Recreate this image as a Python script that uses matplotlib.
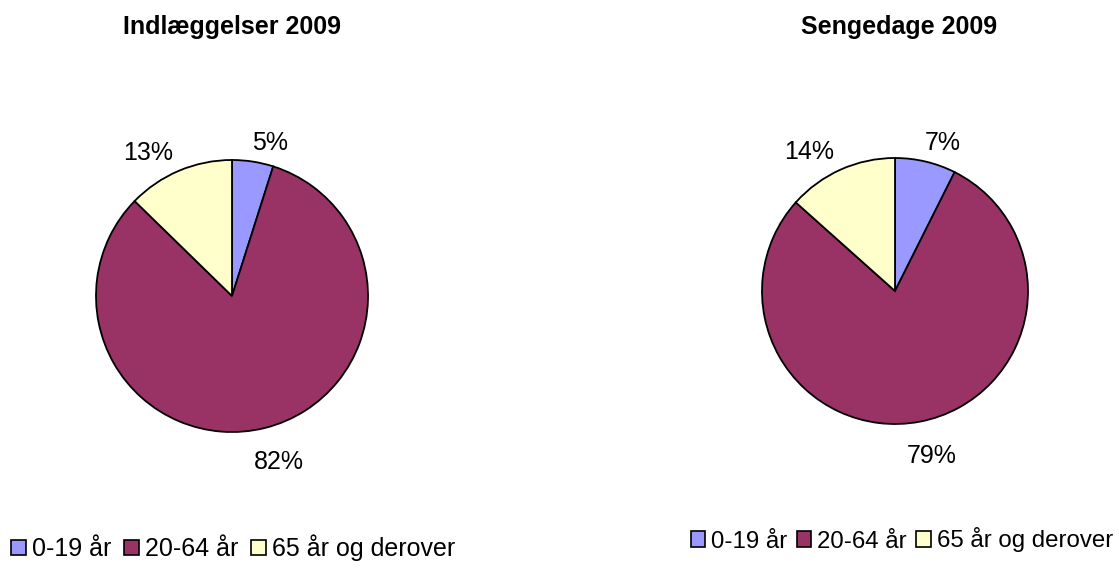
import numpy as np
import matplotlib
matplotlib.use("Agg")
import matplotlib.pyplot as plt
from matplotlib.patches import Patch

plt.rcParams['font.family'] = ['Liberation Sans', 'DejaVu Sans']

categories = ["0-19 år", "20-64 år", "65 år og derover"]
colors = ["#9999FF", "#993366", "#FFFFCC"]

title_left = "Indlæggelser 2009"
values_left = [4.9, 82.4, 12.7]
labels_left = ["5%", "82%", "13%"]

title_right = "Sengedage 2009"
values_right = [7.4, 79.2, 13.4]
labels_right = ["7%", "79%", "14%"]

W, H = 1119, 568
fig = plt.figure(figsize=(W / 100, H / 100), dpi=100)
fig.patch.set_facecolor("white")


def draw_pie(cx, cy, r, values, labels, title, tx, ty, legend_xy, legend_loc, legend_fs, colsp):
    m = 1.03
    ax = fig.add_axes([(cx - r * m) / W, (H - cy - r * m) / H, 2 * r * m / W, 2 * r * m / H])
    wedges, _ = ax.pie(values, colors=colors, startangle=90,
                       counterclock=False, radius=1,
                       wedgeprops=dict(edgecolor="black", linewidth=1.3))
    ax.set_xlim(-m, m)
    ax.set_ylim(-m, m)
    ax.set_aspect("equal")
    ax.axis("off")
    for w, lab in zip(wedges, labels):
        ang = np.deg2rad((w.theta1 + w.theta2) / 2)
        ux, uy = np.cos(ang), np.sin(ang)
        if uy > 0:
            ax.text(1.07 * ux - 0.02, 1.07 * uy - 0.02, lab, fontsize=18,
                    ha="left" if ux > 0 else "right", va="bottom", clip_on=False)
        else:
            ax.text(1.17 * ux + 0.06, 1.17 * uy, lab, fontsize=18,
                    ha="center", va="top", clip_on=False)
    fig.text(tx / W, 1 - ty / H, title, ha="center", va="center",
             fontsize=18, fontweight="bold")
    handles = [Patch(facecolor=c, edgecolor="black", linewidth=1.2) for c in colors]
    fig.legend(handles, categories, loc=legend_loc,
               bbox_to_anchor=(legend_xy[0] / W, 1 - legend_xy[1] / H),
               ncol=3, frameon=False, fontsize=legend_fs, handlelength=0.6,
               handleheight=0.6, handletextpad=0.26, columnspacing=colsp,
               borderpad=0, borderaxespad=0)


draw_pie(232, 296, 136, values_left, labels_left, title_left, 232, 27,
         (11, 548), "center left", 18, 0.48)
draw_pie(895, 291, 133, values_right, labels_right, title_right, 899, 27,
         (1113, 540), "center right", 17.3, 0.38)

fig.savefig("out.png", dpi=100)
